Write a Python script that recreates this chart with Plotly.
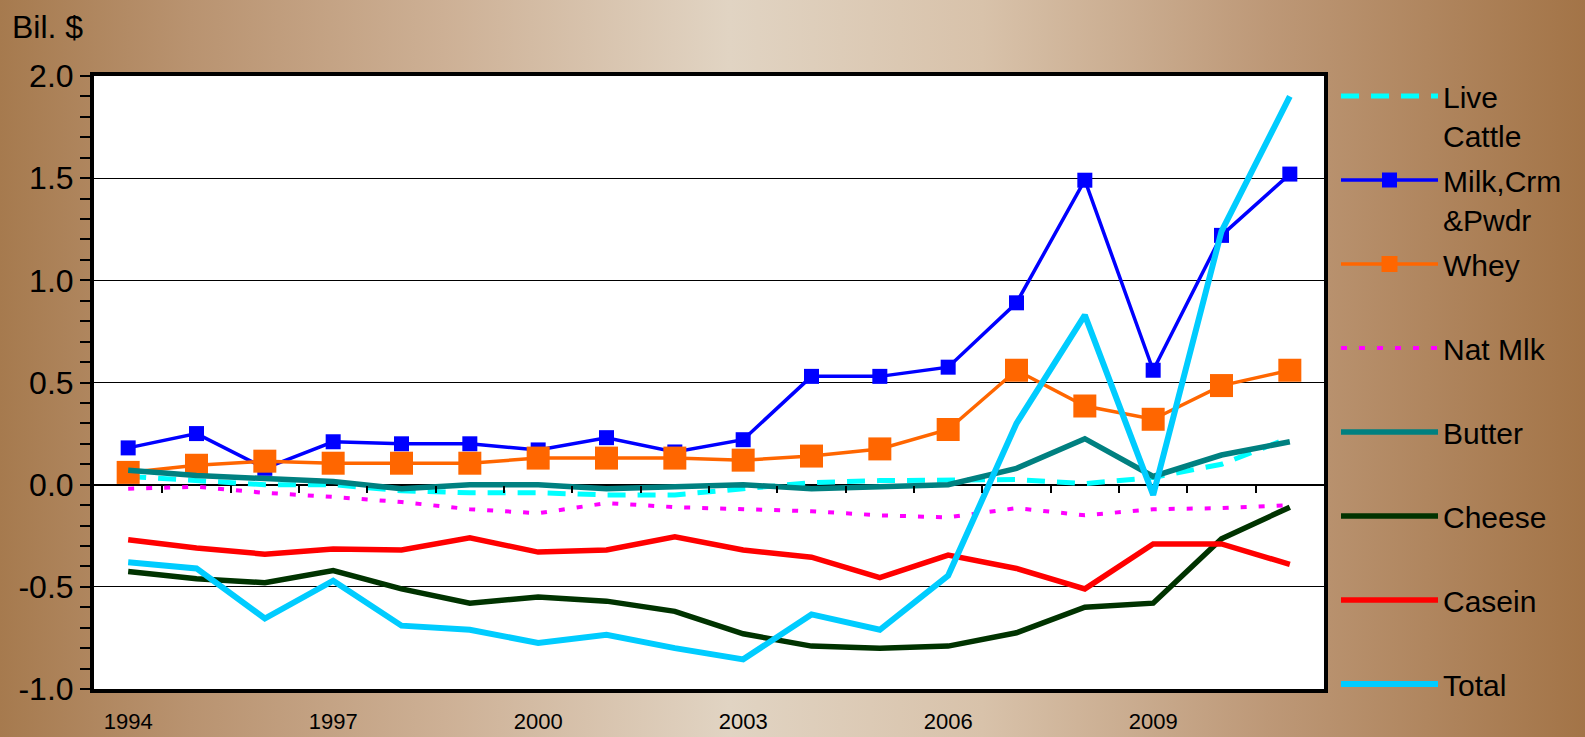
import base64
import plotly.graph_objects as go

# ---------------- data ----------------
years = list(range(1994, 2012))
tick_years = [1994, 1997, 2000, 2003, 2006, 2009]
y_ticks = [-1.0, -0.5, 0.0, 0.5, 1.0, 1.5, 2.0]
y_tick_text = ["-1.0", "-0.5", "0.0", "0.5", "1.0", "1.5", "2.0"]

live_cattle = [0.04, 0.02, 0.0, 0.0, -0.03, -0.04, -0.04, -0.05, -0.05, -0.02,
               0.01, 0.02, 0.02, 0.025, 0.005, 0.035, 0.10, 0.23]
milk_crm_pwdr = [0.18, 0.25, 0.08, 0.21, 0.20, 0.20, 0.17, 0.23, 0.16, 0.22,
                 0.53, 0.53, 0.575, 0.89, 1.49, 0.56, 1.22, 1.52]
whey = [0.06, 0.095, 0.115, 0.105, 0.105, 0.105, 0.13, 0.13, 0.13, 0.12,
        0.14, 0.175, 0.27, 0.56, 0.385, 0.32, 0.485, 0.56]
nat_mlk = [-0.02, -0.01, -0.04, -0.06, -0.085, -0.12, -0.14, -0.09, -0.11, -0.12,
           -0.13, -0.15, -0.16, -0.115, -0.15, -0.12, -0.115, -0.10]
butter = [0.07, 0.045, 0.03, 0.016, -0.02, 0.0, 0.0, -0.02, -0.01, 0.0,
          -0.02, -0.01, 0.0, 0.08, 0.225, 0.04, 0.145, 0.21]
cheese = [-0.425, -0.46, -0.48, -0.42, -0.51, -0.58, -0.55, -0.57, -0.62, -0.73,
          -0.79, -0.80, -0.79, -0.725, -0.60, -0.58, -0.265, -0.11]
casein = [-0.27, -0.31, -0.34, -0.315, -0.32, -0.26, -0.33, -0.32, -0.255, -0.32,
          -0.355, -0.455, -0.345, -0.41, -0.51, -0.29, -0.29, -0.39]
total = [-0.38, -0.41, -0.655, -0.47, -0.69, -0.71, -0.775, -0.735, -0.80, -0.855,
         -0.635, -0.71, -0.445, 0.30, 0.83, -0.05, 1.24, 1.90]

FONT = "Liberation Sans, Arial, sans-serif"

# ---------------- figure ----------------
W, H = 1585, 737
ML, MR, MT, MB = 94, 261, 76, 48
PW, PH = W - ML - MR, H - MT - MB

fig = go.Figure()


def add(name, y, color, width, dash="solid", marker=None):
    kw = dict(x=years, y=y, name=name, mode="lines", legendgroup=name,
              line=dict(color=color, width=width, dash=dash))
    if marker is not None:
        kw["mode"] = "lines+markers"
        kw["marker"] = marker
    fig.add_trace(go.Scatter(**kw))


add("Live<br>Cattle", live_cattle, "#00FFFF", 5, dash="18px,12px")
add("Milk,Crm<br>&Pwdr", milk_crm_pwdr, "#0000FF", 3.5,
    marker=dict(symbol="square", size=15, color="#0000FF"))
add("Whey<br> ", whey, "#FF6600", 3.5,
    marker=dict(symbol="square", size=23, color="#FF6600"))
add("Nat Mlk<br> ", nat_mlk, "#FF00FF", 4, dash="6px,12px")
add("Butter<br> ", butter, "#008080", 5.5)
add("Cheese<br> ", cheese, "#003300", 5.5)
add("Casein<br> ", casein, "#FF0000", 5.5)
add("Total<br> ", total, "#00CCFF", 6)

# helper trace for the tick marks sitting on the zero line
fig.add_trace(go.Scatter(x=[], y=[], xaxis="x2", showlegend=False, hoverinfo="skip"))

boundaries = [y + 0.5 for y in years[:-1]]

# background gradient (svg)
svg = (
    '<svg xmlns="http://www.w3.org/2000/svg" width="1585" height="737" preserveAspectRatio="none">'
    '<defs><linearGradient id="g" x1="0" y1="0" x2="1" y2="0">'
    '<stop offset="0" stop-color="#A67A4E"/>'
    '<stop offset="0.12" stop-color="#B99370"/>'
    '<stop offset="0.28" stop-color="#CDB095"/>'
    '<stop offset="0.46" stop-color="#E1D4C3"/>'
    '<stop offset="0.62" stop-color="#D8C2AA"/>'
    '<stop offset="0.80" stop-color="#BD9877"/>'
    '<stop offset="1" stop-color="#A37447"/>'
    '</linearGradient></defs>'
    '<rect x="0" y="0" width="1585" height="737" fill="url(#g)"/></svg>'
)
src = "data:image/svg+xml;base64," + base64.b64encode(svg.encode()).decode()

fig.add_layout_image(dict(
    source=src, xref="paper", yref="paper",
    x=-ML / PW, y=1 + MT / PH, sizex=W / PW, sizey=H / PH,
    xanchor="left", yanchor="top", sizing="stretch", layer="below"))

# white plot area above the background image
fig.add_shape(type="rect", xref="paper", yref="paper", x0=0, x1=1, y0=0, y1=1,
              fillcolor="white", line=dict(width=0), layer="below")

fig.update_layout(
    width=W, height=H,
    margin=dict(l=ML, r=MR, t=MT, b=MB, autoexpand=False),
    paper_bgcolor="#C8A888",
    plot_bgcolor="white",
    font=dict(family=FONT, color="black"),
    showlegend=True,
    legend=dict(
        x=1.0 + 12 / PW, xanchor="left", y=1.0 + 6 / PH, yanchor="top",
        font=dict(family=FONT, size=30, color="black"),
        bgcolor="rgba(0,0,0,0)", borderwidth=0,
        tracegroupgap=3, itemwidth=97, valign="top",
        traceorder="grouped", maxheight=730,
    ),
    xaxis=dict(
        range=[years[0] - 0.5, years[-1] + 0.5],
        tickmode="array", tickvals=tick_years, ticktext=[str(t) for t in tick_years],
        ticks="", showgrid=False, zeroline=False,
        showline=True, linecolor="black", linewidth=4, mirror=True,
        tickfont=dict(family=FONT, size=22, color="black"),
        ticklabelstandoff=10,
    ),
    xaxis2=dict(
        range=[years[0] - 0.5, years[-1] + 0.5], overlaying="x",
        anchor="free", position=1 / 3,
        tickmode="array", tickvals=boundaries,
        ticks="outside", ticklen=7, tickwidth=2, tickcolor="black",
        showticklabels=False, showgrid=False, zeroline=False, showline=False,
    ),
    yaxis=dict(
        range=[-1.0, 2.0], tickmode="array", tickvals=y_ticks, ticktext=y_tick_text,
        ticks="outside", ticklen=10, tickwidth=2, tickcolor="black",
        showgrid=True, gridcolor="black", gridwidth=1,
        zeroline=True, zerolinecolor="black", zerolinewidth=1.5,
        showline=True, linecolor="black", linewidth=4, mirror=True,
        tickfont=dict(family=FONT, size=32, color="black"),
        ticklabelstandoff=0,
        minor=dict(dtick=0.1, tick0=0, ticks="outside", ticklen=10, tickwidth=2,
                   tickcolor="black", showgrid=False),
    ),
    annotations=[dict(
        text="Bil. $", xref="paper", yref="paper",
        x=-(ML - 10) / PW, y=1 + (MT - 27) / PH,
        xanchor="left", yanchor="middle", showarrow=False,
        font=dict(family=FONT, size=32, color="black"))],
)

fig.write_html("out.html", config={"displayModeBar": False},
               post_script="document.body.style.margin='0';document.body.style.overflow='hidden';")
